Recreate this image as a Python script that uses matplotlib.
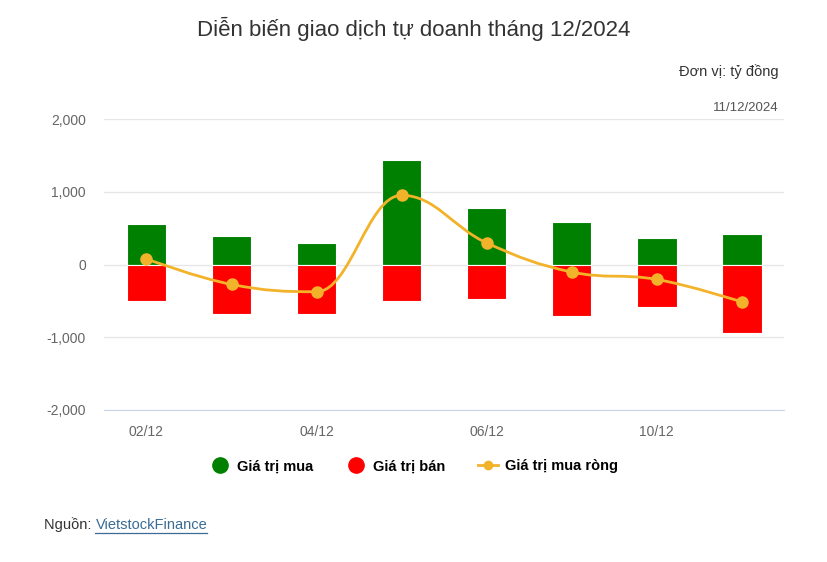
import numpy as np
import matplotlib
matplotlib.use("Agg")
import matplotlib.pyplot as plt
from matplotlib.path import Path
from matplotlib.patches import PathPatch
from matplotlib.lines import Line2D

plt.rcParams['font.family'] = ['Liberation Sans', 'DejaVu Sans']

# Dữ liệu (tỷ đồng)
ngay = ["02/12", "03/12", "04/12", "05/12", "06/12", "09/12", "10/12", "11/12"]
gia_tri_mua = [553, 401, 300, 1438, 784, 590, 369, 419]
gia_tri_ban = [-494, -682, -682, -494, -475, -701, -577, -941]
mua_rong = [79, -272, -373, 954, 300, -101, -203, -512]
nhan_hien = ["02/12", "04/12", "06/12", "10/12"]

mau_mua = "#008000"
mau_ban = "#ff0000"
mau_rong = "#f2b32a"


def spline_path(xs, ys, smoothing=1.5):
    # Đường cong kiểu "spline" của Highcharts (Bezier bậc 3)
    n = len(xs)
    denom = smoothing + 1
    left = [(x, y) for x, y in zip(xs, ys)]
    right = [(x, y) for x, y in zip(xs, ys)]
    for i in range(1, n - 1):
        px, py = xs[i], ys[i]
        lx, ly = xs[i - 1], ys[i - 1]
        nx, ny = xs[i + 1], ys[i + 1]
        lcx = (smoothing * px + lx) / denom
        lcy = (smoothing * py + ly) / denom
        rcx = (smoothing * px + nx) / denom
        rcy = (smoothing * py + ny) / denom
        corr = (rcy - lcy) * (rcx - px) / (rcx - lcx) + py - rcy
        lcy += corr
        rcy += corr
        if lcy > ly and lcy > py:
            lcy = max(ly, py)
            rcy = 2 * py - lcy
        elif lcy < ly and lcy < py:
            lcy = min(ly, py)
            rcy = 2 * py - lcy
        if rcy > ny and rcy > py:
            rcy = max(ny, py)
            lcy = 2 * py - rcy
        elif rcy < ny and rcy < py:
            rcy = min(ny, py)
            lcy = 2 * py - rcy
        left[i] = (lcx, lcy)
        right[i] = (rcx, rcy)
    verts = [(xs[0], ys[0])]
    codes = [Path.MOVETO]
    for i in range(1, n):
        verts += [right[i - 1], left[i], (xs[i], ys[i])]
        codes += [Path.CURVE4] * 3
    return Path(verts, codes)


fig = plt.figure(figsize=(8.28, 5.62), dpi=100)
ax = fig.add_axes([0.1256, 0.2705, 0.8213, 0.5172])

x = np.arange(len(ngay))
ax.bar(x, gia_tri_mua, width=0.47, color=mau_mua, edgecolor="white", linewidth=0.8, zorder=2)
ax.bar(x, gia_tri_ban, width=0.47, color=mau_ban, edgecolor="white", linewidth=0.8, zorder=2)

duong = PathPatch(spline_path(list(x), mua_rong), facecolor="none", edgecolor=mau_rong,
                  linewidth=2, zorder=3)
ax.add_patch(duong)
ax.plot(x, mua_rong, linestyle="none", marker="o", markersize=8, color=mau_rong, zorder=4)

ax.set_xlim(-0.5, len(ngay) - 0.5)
ax.set_ylim(-2000, 2000)
ax.set_yticks([-2000, -1000, 0, 1000, 2000])
ax.set_yticklabels(["-2,000", "-1,000", "0", "1,000", "2,000"])
ax.set_xticks([ngay.index(n) for n in nhan_hien])
ax.set_xticklabels(nhan_hien)
ax.tick_params(axis="both", length=0, labelsize=10, colors="#666666")
ax.tick_params(axis="x", pad=11)
ax.tick_params(axis="y", pad=13)

ax.grid(axis="y", color="#e6e6e6", linewidth=1, zorder=0)
ax.set_axisbelow(True)
for s in ["top", "right", "left"]:
    ax.spines[s].set_visible(False)
ax.spines["bottom"].set_color("#ccd6eb")
ax.spines["bottom"].set_zorder(1)

# Tiêu đề và chú thích
fig.text(0.5, 0.948, "Diễn biến giao dịch tự doanh tháng 12/2024", ha="center", va="center",
         fontsize=16, color="#333333")
fig.text(0.94, 0.873, "Đơn vị: tỷ đồng", ha="right", va="center", fontsize=10.5, color="#333333")
fig.text(0.94, 0.807, "11/12/2024", ha="right", va="center", fontsize=9.5, color="#555555")

handles = [
    Line2D([], [], linestyle="none", marker="o", markersize=11, color=mau_mua),
    Line2D([], [], linestyle="none", marker="o", markersize=11, color=mau_ban),
    Line2D([], [], color=mau_rong, linewidth=2, marker="o", markersize=6),
]
fig.legend(handles, ["Giá trị mua", "Giá trị bán", "Giá trị mua ròng"], loc="center",
           bbox_to_anchor=(0.5, 0.17), ncol=3, frameon=False, handlelength=1.4,
           handletextpad=0.5, columnspacing=2.2,
           prop={"weight": "bold", "size": 10.5})

t = fig.text(44 / 828, 0.066, "Nguồn: ", ha="left", va="center", fontsize=10.5, color="#333333")
fig.canvas.draw()
bb = t.get_window_extent()
link = fig.text(bb.x1 / 828, 0.066, "VietstockFinance", ha="left", va="center", fontsize=10.5,
                color="#3a6c96")
fig.canvas.draw()
lb = link.get_window_extent()
fig.add_artist(Line2D([lb.x0 / 828, lb.x1 / 828], [(lb.y0 - 1) / 562] * 2, color="#3a6c96",
                      linewidth=0.9, transform=fig.transFigure))

fig.savefig("out.png", dpi=100)
